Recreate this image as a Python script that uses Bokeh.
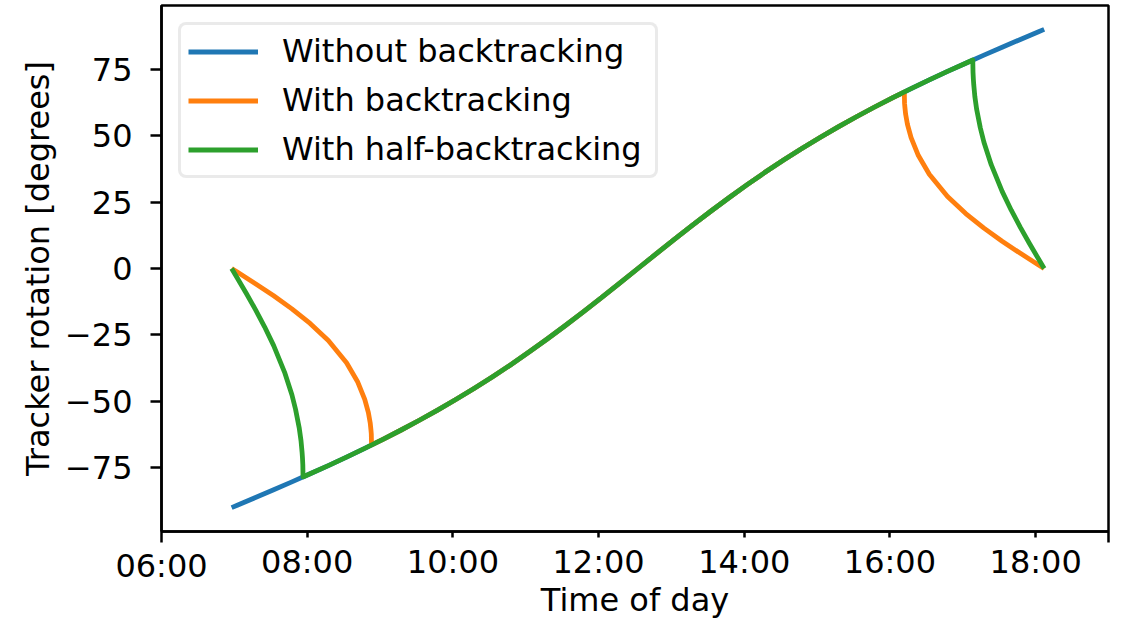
from bokeh.plotting import figure
from bokeh.models import Range1d, FixedTicker, Legend, LegendItem, LinearAxis
from bokeh.embed import file_html
from bokeh.resources import INLINE

# ---- data (hours of day, tracker rotation in degrees) ----
time_no_bt = [6.963, 7.04, 7.29, 7.54, 7.79, 8.04, 8.29, 8.54, 8.79, 9.04, 9.29, 9.54, 9.79,
              10.04, 10.29, 10.54, 10.79, 11.04, 11.29, 11.54, 11.79, 12.04, 12.29, 12.54, 12.79,
              13.04, 13.29, 13.54, 13.79, 14.04, 14.29, 14.54, 14.79, 15.04, 15.29, 15.54, 15.79,
              16.04, 16.29, 16.54, 16.79, 17.04, 17.29, 17.54, 17.79, 18.04, 18.117]
rot_no_bt = [-90, -89.11, -86.22, -83.29, -80.32, -77.28, -74.18, -70.99, -67.70, -64.31, -60.79,
             -57.12, -53.31, -49.33, -45.17, -40.82, -36.29, -31.56, -26.64, -21.55, -16.31,
             -10.95, -5.49, 0, 5.49, 10.95, 16.31, 21.55, 26.64, 31.56, 36.29, 40.82, 45.17,
             49.33, 53.31, 57.12, 60.79, 64.31, 67.70, 70.99, 74.18, 77.28, 80.32, 83.29, 86.22,
             89.11, 90]

time_bt_am = [6.963, 7.04, 7.29, 7.54, 7.79, 8.04, 8.29, 8.54, 8.69, 8.79, 8.84, 8.865, 8.875, 8.88, 8.883]
rot_bt_am = [0, -1.33, -5.71, -10.27, -15.18, -20.68, -27.14, -35.50, -42.52, -49.28, -54.27,
             -58.10, -60.68, -62.24, -66.42]
time_bt_pm = [16.197, 16.20, 16.205, 16.215, 16.24, 16.29, 16.39, 16.54, 16.79, 17.04, 17.29,
              17.54, 17.79, 18.04, 18.117]
rot_bt_pm = [66.42, 62.24, 60.68, 58.10, 54.27, 49.28, 42.52, 35.50, 27.14, 20.68, 15.18,
             10.27, 5.71, 1.33, 0]

time_half_am = [6.963, 7.04, 7.165, 7.29, 7.415, 7.54, 7.69, 7.79, 7.84, 7.89, 7.915, 7.93,
                7.935, 7.94, 7.943]
rot_half_am = [0, -3.56, -9.40, -15.47, -21.94, -29.04, -39.08, -47.53, -52.99, -59.93, -64.79,
               -69.23, -71.18, -73.95, -78.46]
time_half_pm = [17.137, 17.14, 17.145, 17.15, 17.165, 17.19, 17.24, 17.29, 17.39, 17.54, 17.665,
                17.79, 17.915, 18.04, 18.117]
rot_half_pm = [78.46, 73.95, 71.18, 69.23, 64.79, 59.93, 52.99, 47.53, 39.08, 29.04, 21.94,
               15.47, 9.40, 3.56, 0]

series_labels = ["Without backtracking", "With backtracking", "With half-backtracking"]
series_colors = ["#1f77b4", "#ff7f0e", "#2ca02c"]

hour_ticks = [8, 10, 12, 14, 16, 18]
hour_labels = ["08:00", "10:00", "12:00", "14:00", "16:00", "18:00"]
hour_major = [6, 19]
first_hour_tick = [6]
first_hour_label = ["06:00"]
rotation_ticks = [-75, -50, -25, 0, 25, 50, 75]
rotation_labels = ["\u221275", "\u221250", "\u221225", "0", "25", "50", "75"]

x_title = "Time of day"
y_title = "Tracker rotation [degrees]"

# ---- combine shared middle sections ----
def middle(t0, t1):
    ts = [t for t in time_no_bt if t0 < t < t1]
    rs = [r for t, r in zip(time_no_bt, rot_no_bt) if t0 < t < t1]
    return ts, rs

mt, mr = middle(time_bt_am[-1], time_bt_pm[0])
time_bt = time_bt_am + mt + time_bt_pm
rot_bt = rot_bt_am + mr + rot_bt_pm
ht, hr = middle(time_half_am[-1], time_half_pm[0])
time_half = time_half_am + ht + time_half_pm
rot_half = rot_half_am + hr + rot_half_pm

FONT = "DejaVu Sans"
FS = "32px"

p = figure(width=1111, height=621, output_backend="svg", toolbar_location=None,
           x_range=Range1d(6, 19), y_range=Range1d(-99, 99))
p.min_border_left = 161
p.min_border_right = 3
p.min_border_top = 5
p.min_border_bottom = 0
p.xgrid.visible = False
p.ygrid.visible = False
p.outline_line_color = "black"
p.outline_line_width = 2.5
p.background_fill_color = "white"
p.border_fill_color = "white"

lw = 4.8
r1 = p.line(time_no_bt, rot_no_bt, line_color=series_colors[0], line_width=lw, line_join="round")
r2 = p.line(time_bt, rot_bt, line_color=series_colors[1], line_width=lw, line_join="round")
r3 = p.line(time_half, rot_half, line_color=series_colors[2], line_width=lw, line_join="round")

# main x axis: labelled hour ticks (short) + long ticks at 06:00 and 19:00
xa = p.xaxis[0]
xa.ticker = FixedTicker(ticks=hour_ticks, minor_ticks=hour_major)
xa.major_label_overrides = {t: l for t, l in zip(hour_ticks, hour_labels)}
xa.major_tick_out = 6
xa.major_tick_in = 0
xa.minor_tick_out = 11
xa.minor_tick_in = 0
xa.major_tick_line_width = 2.5
xa.minor_tick_line_width = 2.5
xa.major_tick_line_color = "black"
xa.minor_tick_line_color = "black"
xa.axis_line_width = 2.5
xa.axis_line_color = "black"
xa.major_label_standoff = 0
xa.major_label_text_font = FONT
xa.major_label_text_font_size = FS
xa.major_label_text_color = "black"

# second (invisible) axis carrying the lower 06:00 label and the axis title
xa2 = LinearAxis(ticker=FixedTicker(ticks=first_hour_tick),
                 major_label_overrides={t: l for t, l in zip(first_hour_tick, first_hour_label)})
xa2.axis_line_color = None
xa2.major_tick_line_color = None
xa2.minor_tick_line_color = None
xa2.major_tick_out = 0
xa2.major_tick_in = 0
xa2.minor_tick_out = 0
xa2.minor_tick_in = 0
xa2.major_label_standoff = -37
xa2.major_label_text_font = FONT
xa2.major_label_text_font_size = FS
xa2.major_label_text_color = "black"
xa2.axis_label = x_title
xa2.axis_label_text_font = FONT
xa2.axis_label_text_font_size = FS
xa2.axis_label_text_font_style = "normal"
xa2.axis_label_text_color = "black"
xa2.axis_label_standoff = -7
p.add_layout(xa2, "below")

# y axis
ya = p.yaxis[0]
ya.ticker = FixedTicker(ticks=rotation_ticks)
ya.major_label_overrides = {t: l for t, l in zip(rotation_ticks, rotation_labels)}
ya.major_tick_out = 11
ya.major_tick_in = 0
ya.minor_tick_out = 0
ya.minor_tick_in = 0
ya.major_tick_line_width = 2.5
ya.major_tick_line_color = "black"
ya.axis_line_width = 2.5
ya.axis_line_color = "black"
ya.major_label_standoff = 18
ya.major_label_text_font = FONT
ya.major_label_text_font_size = FS
ya.major_label_text_color = "black"
ya.axis_label = y_title
ya.axis_label_text_font = FONT
ya.axis_label_text_font_size = FS
ya.axis_label_text_font_style = "normal"
ya.axis_label_text_color = "black"
ya.axis_label_standoff = 5

legend = Legend(items=[LegendItem(label=series_labels[0], renderers=[r1]),
                       LegendItem(label=series_labels[1], renderers=[r2]),
                       LegendItem(label=series_labels[2], renderers=[r3])],
                location="top_left", margin=17, padding=7, spacing=11,
                glyph_width=70, glyph_height=37, label_height=37, label_width=366,
                label_standoff=24,
                label_text_font=FONT, label_text_font_size=FS, label_text_color="black",
                border_line_color="#d6d6d6", border_line_width=3,
                background_fill_color="white", background_fill_alpha=0.8)
try:
    legend.border_radius = 8
except Exception:
    pass
p.add_layout(legend)

open("out.html", "w").write(file_html(p, INLINE))
